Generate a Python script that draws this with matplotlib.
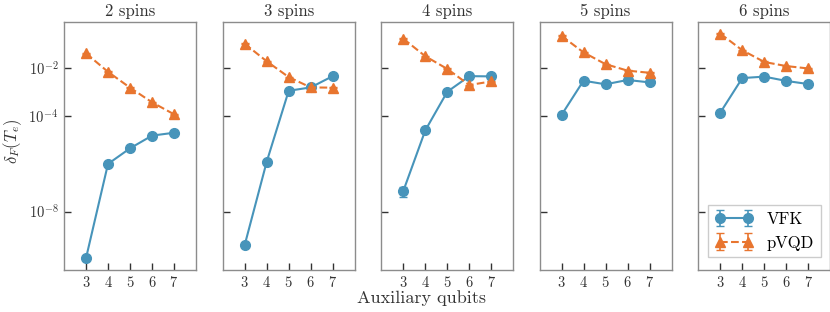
import numpy as np
import matplotlib
matplotlib.use("Agg")
import matplotlib.pyplot as plt
from matplotlib.ticker import FixedLocator, NullLocator

plt.rcParams['font.family'] = ['serif']
plt.rcParams['font.serif'] = ['cmr10', 'DejaVu Serif']
plt.rcParams['mathtext.fontset'] = 'cm'
plt.rcParams['axes.formatter.use_mathtext'] = True

titles = ["2 spins", "3 spins", "4 spins", "5 spins", "6 spins"]
aux = [3, 4, 5, 6, 7]

# log10 values
vfk_log = [
    [-9.94, -6.01, -5.36, -4.83, -4.71],
    [-9.39, -5.92, -2.96, -2.82, -2.35],
    [-7.14, -4.61, -3.00, -2.35, -2.36],
    [-3.97, -2.54, -2.69, -2.51, -2.61],
    [-3.87, -2.43, -2.37, -2.55, -2.68],
]
pvqd_log = [
    [-1.40, -2.17, -2.83, -3.44, -3.94],
    [-1.00, -1.73, -2.39, -2.82, -2.83],
    [-0.79, -1.52, -2.05, -2.72, -2.57],
    [-0.67, -1.36, -1.85, -2.12, -2.21],
    [-0.58, -1.27, -1.76, -1.93, -2.03],
]
# relative error (fraction of value)
vfk_relerr = [
    [0.05, 0.05, 0.05, 0.05, 0.05],
    [0.05, 0.05, 0.05, 0.05, 0.05],
    [0.45, 0.05, 0.05, 0.05, 0.05],
    [0.05, 0.05, 0.05, 0.05, 0.05],
    [0.05, 0.05, 0.05, 0.05, 0.05],
]
pvqd_relerr = [
    [0.05, 0.05, 0.05, 0.05, 0.05],
    [0.05, 0.05, 0.05, 0.05, 0.05],
    [0.05, 0.05, 0.05, 0.05, 0.05],
    [0.05, 0.05, 0.05, 0.05, 0.05],
    [0.05, 0.05, 0.05, 0.05, 0.05],
]

blue = "#4794ba"
orange = "#e8752f"
spine_col = "#8c8c8c"
text_col = "#333333"

W, H = 830, 312
fig = plt.figure(figsize=(W / 100, H / 100), dpi=100)

lefts = [64, 222.7, 381.3, 539.5, 698.3]
width = 132
top, bottom = 21.7, 269.7

axes = []
for i in range(5):
    ax = fig.add_axes([lefts[i] / W, 1 - bottom / H, width / W, (bottom - top) / H])
    axes.append(ax)
    v = 10 ** np.array(vfk_log[i])
    p = 10 ** np.array(pvqd_log[i])
    ax.errorbar(aux, v, yerr=v * np.array(vfk_relerr[i]), color=blue, marker='o', markersize=7,
                lw=1.5, capsize=3, elinewidth=1.2, label="VFK", zorder=3)
    ax.errorbar(aux, p, yerr=p * np.array(pvqd_relerr[i]), color=orange, marker='^', markersize=7,
                lw=1.5, ls='--', capsize=3, elinewidth=1.2, label="pVQD", zorder=3)
    ax.set_yscale('log')
    ax.set_ylim(10 ** -10.42, 10 ** -0.08)
    ax.set_xlim(2, 8)
    ax.set_xticks(aux)
    ax.yaxis.set_major_locator(FixedLocator([1e-8, 1e-4, 1e-2]))
    ax.yaxis.set_minor_locator(NullLocator())
    ax.set_title(titles[i], fontsize=12, pad=4, color=text_col)
    for s in ax.spines.values():
        s.set_color(spine_col)
        s.set_linewidth(1.0)
    ax.tick_params(axis='both', direction='in', length=5, width=1, color=text_col,
                   labelsize=10.5, labelcolor=text_col, pad=4)
    if i > 0:
        ax.tick_params(axis='y', labelleft=False)

fig.text(12.5 / W, 1 - 141 / H, r"$\delta_F(T_e)$", rotation=90, ha='center', va='center',
         fontsize=12, color=text_col)
leg = axes[4].legend(loc='lower right', bbox_to_anchor=(820.5 / W, 1 - 257.3 / H),
                     bbox_transform=fig.transFigure, borderaxespad=0, numpoints=2,
                     handlelength=2.3, fontsize=12, fancybox=False, framealpha=1,
                     edgecolor='#cccccc')
fig.text(421 / W, 1 - 298 / H, "Auxiliary qubits", ha='center', va='center', fontsize=13, color=text_col)

fig.savefig("out.png", dpi=100)
